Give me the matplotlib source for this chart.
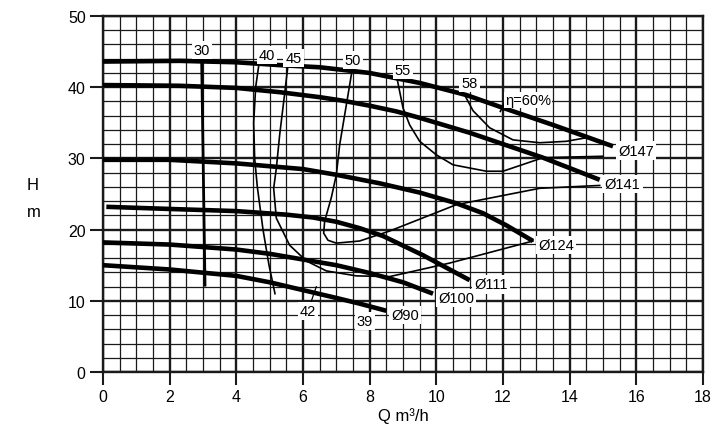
import numpy as np
import matplotlib
matplotlib.use("Agg")
import matplotlib.pyplot as plt

plt.rcParams["font.family"] = ["Liberation Sans", "DejaVu Sans"]

# -----------------------------
# Head curves (Q m3/h, H m) per impeller diameter
# -----------------------------
q147 = [0, 2.3, 4, 5.3, 6.5, 8, 9.5, 10.9, 12, 13.5, 15.3]
h147 = [43.6, 43.7, 43.5, 43.1, 42.8, 42.0, 40.6, 38.9, 37.1, 34.7, 31.7]

q141 = [0, 2.3, 4, 5.3, 6.5, 7.2, 8, 8.8, 9.5, 11, 13.2, 14.9]
h141 = [40.3, 40.2, 39.9, 39.3, 38.6, 38.1, 37.4, 36.6, 35.7, 33.6, 30.1, 27.0]

q124 = [0, 2, 4, 6, 7, 8.3, 9.5, 10.6, 11.4, 12.1, 12.9]
h124 = [29.8, 29.8, 29.3, 28.5, 27.7, 26.5, 25.2, 23.7, 22.3, 20.6, 18.4]

q111 = [0.1, 2, 4, 5.5, 6.3, 7, 7.7, 8.4, 9.6, 11]
h111 = [23.2, 22.9, 22.6, 22.1, 21.7, 21.1, 20.2, 19.1, 16.4, 12.9]

q100 = [0, 2, 4, 5, 6, 7, 8, 9, 9.9]
h100 = [18.2, 17.9, 17.2, 16.6, 15.8, 15.0, 13.9, 12.6, 11.0]

q90 = [0, 2, 4, 5, 6, 7, 7.7, 8.5]
h90 = [15.0, 14.4, 13.5, 12.6, 11.5, 10.4, 9.6, 8.6]

diam_labels = ["Ø147", "Ø141", "Ø124", "Ø111", "Ø100", "Ø90"]

# -----------------------------
# Iso-efficiency curves
# -----------------------------
e30_q = [2.96, 3.06]
e30_h = [43.6, 12.2]

e40_q = [4.68, 4.58, 4.52, 4.55, 4.63, 4.8, 4.98, 5.16]
e40_h = [43.3, 40, 35, 30, 26, 20, 15, 11]

e45_q = [5.55, 5.46, 5.3, 5.2, 5.12, 5.2, 5.6, 6.1, 6.7, 7.6, 8.6, 10.4, 12.9]
e45_h = [43.1, 39.5, 33.3, 28.6, 25.8, 21.6, 17.8, 15.6, 14.2, 13.5, 13.4, 15.3, 18.4]

e50_q = [7.47, 7.3, 7.1, 7.0, 6.85, 6.65, 6.62, 6.75, 7.0, 7.7, 8.6, 10.6, 13.1, 14.9]
e50_h = [42.3, 37.5, 31.9, 27.7, 24.5, 21.2, 19.5, 18.5, 18.1, 18.4, 19.8, 23.5, 25.8, 26.2]

e55_q = [8.8, 9.0, 9.2, 9.5, 10.0, 10.5, 11.5, 12.0, 13.2, 15.0]
e55_h = [41.7, 37.1, 34.7, 32.4, 30.5, 29.1, 28.2, 28.2, 30.1, 30.3]

e58_q = [10.85, 11.1, 11.6, 12.3, 13.1, 13.9, 14.5]
e58_h = [38.9, 36.7, 34.3, 32.6, 32.2, 32.4, 32.9]

e60_q = [11.92, 12.05]
e60_h = [36.6, 37.8]

# label text, label position, (optional) point it refers to
eff_labels = [
    ("30", (2.97, 45.2), None),
    ("40", (4.92, 44.5), None),
    ("45", (5.72, 44.1), None),
    ("50", (7.5, 43.8), None),
    ("55", (9.0, 42.4), None),
    ("58", (11.0, 40.6), None),
    ("42", (6.15, 8.6), (6.4, 12.0)),
    ("39", (7.86, 7.2), (8.05, 9.0)),
]

# -----------------------------
# Figure
# -----------------------------
fig = plt.figure(figsize=(7.17, 4.27), dpi=100)
ax = fig.add_axes([103 / 717, 1 - 373 / 427, 600 / 717, 356 / 427])

ax.set_xlim(0, 18)
ax.set_ylim(0, 50)
ax.set_xticks(np.arange(0, 19, 2))
ax.set_xticks(np.arange(0, 18.01, 0.5), minor=True)
ax.set_yticks(np.arange(0, 51, 10))
ax.set_yticks(np.arange(0, 50.01, 2), minor=True)

ax.grid(which="major", color="#1a1a1a", lw=1.7, zorder=0)
ax.grid(which="minor", color="#1a1a1a", lw=0.9, zorder=0)
ax.set_axisbelow(True)

ax.tick_params(which="major", direction="out", length=9.5, width=1.5,
               labelsize=11.5, pad=3, color="#1a1a1a")
ax.tick_params(which="minor", length=0)
for s in ax.spines.values():
    s.set_linewidth(1.7)
    s.set_color("#1a1a1a")

thick = dict(color="black", lw=3.3, solid_capstyle="butt", solid_joinstyle="round", zorder=3)
thin = dict(color="black", lw=1.2, solid_joinstyle="round", zorder=2)

heads = [(q147, h147), (q141, h141), (q124, h124), (q111, h111), (q100, h100), (q90, h90)]
for q, h in heads:
    ax.plot(q, h, **thick)

ax.plot(e30_q, e30_h, color="black", lw=2.0, zorder=2)
for q, h in [(e40_q, e40_h), (e45_q, e45_h), (e50_q, e50_h),
             (e55_q, e55_h), (e58_q, e58_h), (e60_q, e60_h)]:
    ax.plot(q, h, **thin)

box = dict(boxstyle="square,pad=0.15", fc="white", ec="none")

# diameter labels at the end of each head curve
for (q, h), lab in zip(heads, diam_labels):
    ax.text(q[-1] + 0.15, h[-1] - 0.6, lab, fontsize=10.5, ha="left", va="center",
            bbox=box, zorder=4)

for lab, pos, pt in eff_labels:
    if pt is None:
        ax.text(pos[0], pos[1], lab, fontsize=10.5, ha="center", va="center",
                bbox=box, zorder=4)
    else:
        ax.annotate(lab, xy=pt, xytext=pos, fontsize=10.5, ha="center", va="center",
                    bbox=box, zorder=4,
                    arrowprops=dict(arrowstyle="-", lw=0.9, color="black",
                                    shrinkA=0, shrinkB=0))

ax.text(12.06, 38.2, "η=60%", fontsize=10.5, ha="left", va="center",
        bbox=dict(boxstyle="square,pad=0.1", fc="white", ec="none"), zorder=4)

# axis titles
fig.text(33 / 717, 1 - 185 / 427, "H", fontsize=12, ha="center", va="center")
fig.text(34 / 717, 1 - 213 / 427, "m", fontsize=12, ha="center", va="center")
fig.text(403 / 717, 1 - 416 / 427, "Q m³/h", fontsize=12, ha="center", va="center")

fig.savefig("out.png", dpi=100)
